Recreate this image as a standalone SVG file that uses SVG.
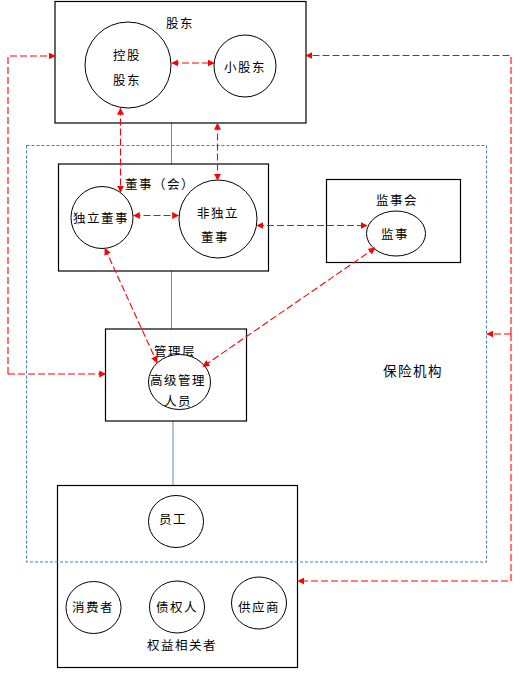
<svg xmlns="http://www.w3.org/2000/svg" width="520" height="673" viewBox="0 0 520 673">
<defs>
<marker id="ah" viewBox="0 0 10 10" refX="9" refY="5" markerWidth="7" markerHeight="7" markerUnits="userSpaceOnUse" orient="auto-start-reverse"><path d="M0,0 L10,5 L0,10 z" fill="#ff0000"/></marker>
<style>
.box{fill:#fff;stroke:#000;stroke-width:1.2}
.c{fill:#fff;stroke:#000;stroke-width:1}
.t{font-family:"Noto Sans CJK SC","Noto Sans CJK JP",sans-serif;font-size:12.5px;fill:#000;text-anchor:middle;dominant-baseline:central;letter-spacing:1.5px}
.red{fill:none;stroke:#ff0000;stroke-width:1.1;stroke-dasharray:7,3}
.ra{fill:none;stroke:#ff0000;stroke-width:1.1;stroke-dasharray:7,3;marker-end:url(#ah)}
.rb{fill:none;stroke:#ff0000;stroke-width:1.1;stroke-dasharray:7,3;marker-start:url(#ah);marker-end:url(#ah)}
.blue{fill:none;stroke:#3f7fc4;stroke-width:1;stroke-dasharray:3,2}
.link{stroke:#5a8ac0;stroke-width:1}
</style>
</defs>
<rect width="520" height="673" fill="#fff"/>
<g id="links">
<line class="link" x1="171.5" y1="123" x2="171.5" y2="164"/>
<line class="link" x1="171.5" y1="271" x2="171.5" y2="329"/>
<line class="link" x1="173" y1="421" x2="173" y2="485"/>
</g>
<g id="shareholders">
<rect class="box" x="55" y="1.5" width="251" height="121.5"/>
<text class="t" x="180" y="22">股东</text>
<circle class="c" cx="128" cy="65" r="43"/>
<text class="t" x="127" y="54">控股</text>
<text class="t" x="127" y="79">股东</text>
<circle class="c" cx="245" cy="66" r="31"/>
<text class="t" x="245" y="66">小股东</text>
</g>
<g id="board">
<rect class="box" x="58.5" y="164" width="210" height="107"/>
<text class="t" x="160" y="183">董事（会）</text>
<circle class="c" cx="102" cy="217.5" r="31"/>
<text class="t" x="101" y="217">独立董事</text>
<circle class="c" cx="218" cy="219" r="39"/>
<text class="t" x="218" y="212">非独立</text>
<text class="t" x="215" y="236">董事</text>
</g>
<g id="supervisors">
<rect class="box" x="326.5" y="179.5" width="134" height="83"/>
<text class="t" x="397" y="199">监事会</text>
<ellipse class="c" cx="396" cy="233.5" rx="29.5" ry="22.5"/>
<text class="t" x="395" y="233">监事</text>
</g>
<g id="management">
<rect class="box" x="105.5" y="329" width="141" height="92"/>
<text class="t" x="175" y="350">管理层</text>
<ellipse class="c" cx="179.5" cy="382" rx="31" ry="27.5"/>
<text class="t" x="178" y="379">高级管理</text>
<text class="t" x="178" y="400">人员</text>
</g>
<g id="stakeholders">
<rect class="box" x="57.5" y="485.5" width="240" height="182"/>
<ellipse class="c" cx="176" cy="521.5" rx="27.5" ry="26"/>
<text class="t" x="173" y="518">员工</text>
<ellipse class="c" cx="93.5" cy="607.5" rx="27.5" ry="26"/>
<text class="t" x="93" y="606">消费者</text>
<ellipse class="c" cx="177" cy="607" rx="27.5" ry="26"/>
<text class="t" x="177" y="606">债权人</text>
<ellipse class="c" cx="259" cy="603" rx="27.5" ry="26"/>
<text class="t" x="259" y="606">供应商</text>
<text class="t" x="182" y="644">权益相关者</text>
</g>
<g id="insurer">
<rect class="blue" x="26.5" y="145.5" width="460" height="416.5"/>
<text class="t" x="413" y="370" style="font-size:13.5px">保险机构</text>
</g>
<g id="connectors">
<line class="rb" x1="172" y1="63" x2="214" y2="63"/>
<line class="rb" x1="133.5" y1="215.5" x2="178.5" y2="215.5"/>
<line class="rb" x1="257" y1="225.5" x2="367" y2="225.5"/>
<line class="rb" x1="120.5" y1="108.5" x2="120.5" y2="192"/>
<line class="rb" x1="217.5" y1="123.5" x2="217.5" y2="180"/>
<line class="rb" x1="105" y1="248.5" x2="157" y2="362.5"/>
<line class="rb" x1="375" y1="248" x2="203" y2="366.5"/>
<polyline class="ra" points="8,374 8,56 55,56"/>
<line class="ra" x1="8" y1="374" x2="105.5" y2="374"/>
<polyline class="ra" points="511,334 511,55.5 306,55.5"/>
<line class="ra" x1="511" y1="334" x2="487" y2="334"/>
<polyline class="ra" points="511,334 511,581 298,581"/>
</g>
</svg>
